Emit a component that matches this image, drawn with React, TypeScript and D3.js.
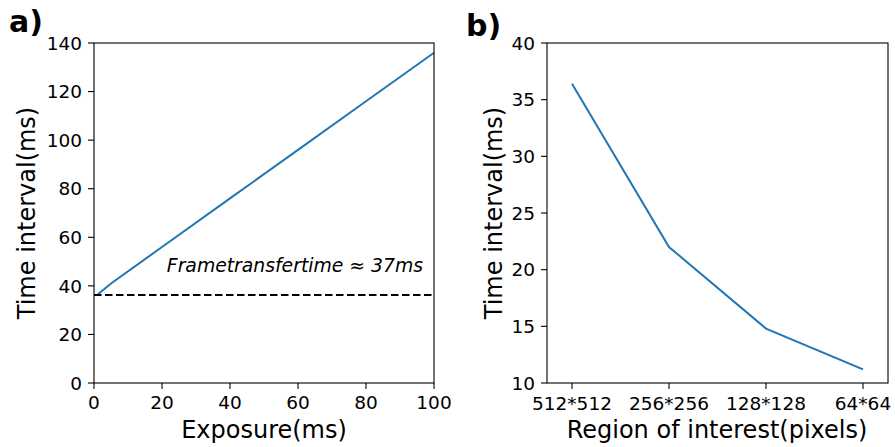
import React from "react";
import * as d3 from "d3";

const exposure = [1, 5, 20, 40, 60, 80, 100];
const timeA = [36.3, 41, 56, 76, 96, 116, 136];
const frameTransfer = 36.2;
const ticksA_x = [0, 20, 40, 60, 80, 100];
const ticksA_y = [0, 20, 40, 60, 80, 100, 120, 140];

const roiLabels = ["512*512", "256*256", "128*128", "64*64"];
const timeB = [36.4, 22.0, 14.8, 11.2];
const ticksB_y = [10, 15, 20, 25, 30, 35, 40];

const FONT = "DejaVu Sans, sans-serif";
const BLUE = "#1f77b4";

export default function App() {
  const W = 895, H = 447;
  const top = 43, bottom = 383;

  // panel a
  const xA = d3.scaleLinear().domain([0, 100]).range([94, 434]);
  const yA = d3.scaleLinear().domain([0, 140]).range([bottom, top]);
  const lineA = d3.line<number>().x((_, i) => xA(exposure[i])).y((d) => yA(d));

  // panel b
  const xB = d3.scalePoint<string>().domain(roiLabels).range([572, 863]);
  const yB = d3.scaleLinear().domain([10, 40]).range([bottom, top]);
  const lineB = d3.line<number>().x((_, i) => xB(roiLabels[i]) as number).y((d) => yB(d));

  const tickFont = 18.5;
  const labelFont = 24;

  return (
    <svg width={W} height={H} style={{ display: "block", position: "absolute", left: 0, top: 0 }} fontFamily={FONT}>
      <rect width={W} height={H} fill="white" />
      {/* Panel a */}
      <text x={9} y={32} fontSize={30} fontWeight="bold">a)</text>
      <path d={lineA(timeA) || ""} fill="none" stroke={BLUE} strokeWidth={2} />
      <line x1={xA(0)} x2={xA(100)} y1={yA(frameTransfer)} y2={yA(frameTransfer)} stroke="black" strokeWidth={2} strokeDasharray="7.5,3.5" />
      <text x={423} y={272} fontSize={18.8} fontStyle="italic" textAnchor="end">Frametransfertime ≈ 37ms</text>
      <rect x={94} y={top} width={340} height={bottom - top} fill="none" stroke="black" strokeWidth={1.1} />
      {ticksA_x.map((t) => (
        <g key={"ax" + t}>
          <line x1={xA(t)} x2={xA(t)} y1={bottom} y2={bottom + 6} stroke="black" strokeWidth={1.1} />
          <text x={xA(t)} y={409} fontSize={tickFont} textAnchor="middle">{t}</text>
        </g>
      ))}
      {ticksA_y.map((t) => (
        <g key={"ay" + t}>
          <line x1={88} x2={94} y1={yA(t)} y2={yA(t)} stroke="black" strokeWidth={1.1} />
          <text x={82} y={yA(t)} dy="0.36em" fontSize={tickFont} textAnchor="end">{t}</text>
        </g>
      ))}
      <text x={264} y={438} fontSize={labelFont} textAnchor="middle">Exposure(ms)</text>
      <text transform={`translate(35,${(top + bottom) / 2}) rotate(-90)`} fontSize={labelFont} textAnchor="middle">Time interval(ms)</text>

      {/* Panel b */}
      <text x={466} y={36} fontSize={30} fontWeight="bold">b)</text>
      <path d={lineB(timeB) || ""} fill="none" stroke={BLUE} strokeWidth={2} />
      <rect x={547} y={top} width={341} height={bottom - top} fill="none" stroke="black" strokeWidth={1.1} />
      {roiLabels.map((t) => (
        <g key={"bx" + t}>
          <line x1={xB(t)} x2={xB(t)} y1={bottom} y2={bottom + 6} stroke="black" strokeWidth={1.1} />
          <text x={xB(t)} y={410} fontSize={tickFont} textAnchor="middle">{t}</text>
        </g>
      ))}
      {ticksB_y.map((t) => (
        <g key={"by" + t}>
          <line x1={541} x2={547} y1={yB(t)} y2={yB(t)} stroke="black" strokeWidth={1.1} />
          <text x={535} y={yB(t)} dy="0.36em" fontSize={tickFont} textAnchor="end">{t}</text>
        </g>
      ))}
      <text x={717} y={438} fontSize={labelFont} textAnchor="middle">Region of interest(pixels)</text>
      <text transform={`translate(502,${(top + bottom) / 2}) rotate(-90)`} fontSize={labelFont} textAnchor="middle">Time interval(ms)</text>
    </svg>
  );
}
